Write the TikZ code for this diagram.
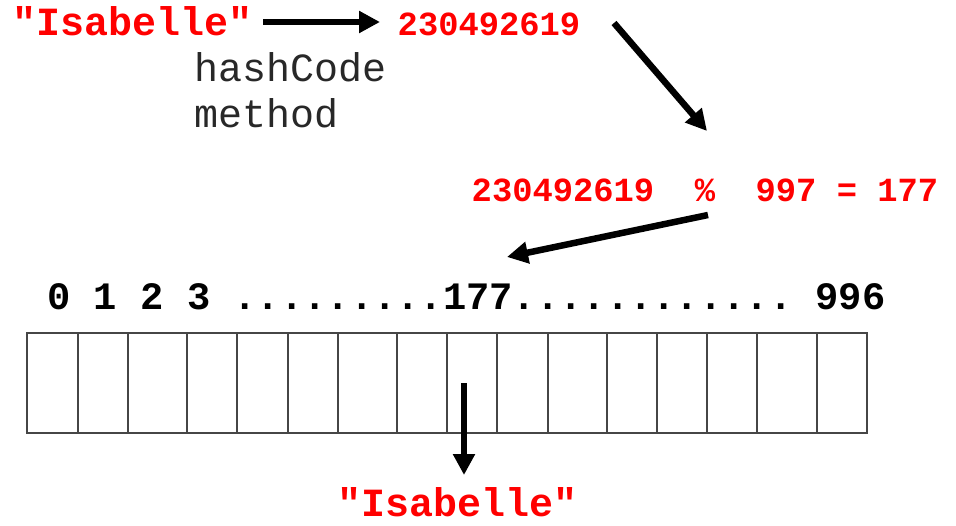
\documentclass[tikz,border=0pt]{standalone}
\usepackage{fontspec}
\setmonofont{Liberation Mono}
\usetikzlibrary{arrows.meta}
\definecolor{keyred}{RGB}{255,0,0}
\definecolor{note}{RGB}{40,40,40}
\definecolor{grid}{RGB}{70,70,70}
\tikzset{
  bigkey/.style={font=\fontsize{40}{40}\selectfont\ttfamily\bfseries, text=keyred, inner sep=0pt, anchor=base},
  numtxt/.style={font=\fontsize{33.8}{34}\selectfont\ttfamily\bfseries, text=keyred, inner sep=0pt, anchor=base},
  notetxt/.style={font=\fontsize{40}{40}\selectfont\ttfamily, text=note, inner sep=0pt, anchor=base west},
  idxtxt/.style={font=\fontsize{38.8}{39}\selectfont\ttfamily\bfseries, text=black, inner sep=0pt, anchor=base},
  flow/.style={line width=6.5pt, -{Triangle[length=21pt,width=21pt]}},
  cellline/.style={draw=grid, line width=1.4pt}
}
\begin{document}
\begin{tikzpicture}[x=1pt,y=-1pt]
\useasboundingbox (0,0) rectangle (956,525);

% key and its hash code
\node[bigkey] (key) at (132.5,35) {"Isabelle"};
\node[numtxt] (hash) at (489,35) {230492619};
\node[notetxt] (hc1) at (194,81) {hashCode};
\node[notetxt] (hc2) at (194,127) {method};

% compression step
\node[numtxt] (mod) at (705,201) {230492619~~\%~~997~=~177};

% bucket indices
\node[idxtxt] (idx) at (466.5,309) {0~1~2~3~.........177............~996};

% bucket array
\draw[cellline] (27,333) rectangle (867,433);
\foreach \cx in {78,128,187,237,288,338,397,447,497,548,607,657,707,757,817}
  \draw[cellline] (\cx,333) -- (\cx,433);

% stored entry
\node[bigkey] (entry) at (457.5,516) {"Isabelle"};

% arrow ends
\coordinate (a1s) at (263,22);
\coordinate (a1e) at (380,22);
\coordinate (a2s) at (614,23);
\coordinate (a2e) at (707,131);
\coordinate (a3s) at (708,215);
\coordinate (a3e) at (507,257);
\coordinate (a4s) at (464,383);
\coordinate (a4e) at (464,475);

\draw[flow] (a1s) -- (a1e);
\draw[flow] (a2s) -- (a2e);
\draw[flow] (a3s) -- (a3e);
\draw[flow] (a4s) -- (a4e);
\end{tikzpicture}
\end{document}
